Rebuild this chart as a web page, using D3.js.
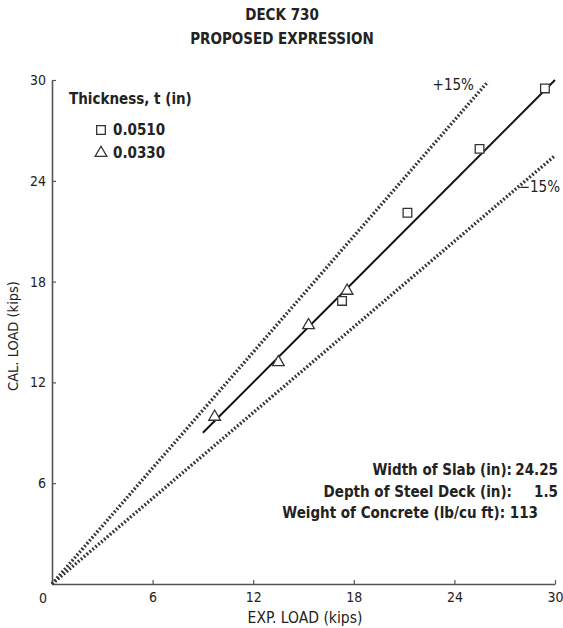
<!DOCTYPE html>
<html><head><meta charset="utf-8">
<script src="https://cdn.jsdelivr.net/npm/d3@7"></script>
<style>
body{margin:0;background:#fff;}
text{font-family:"Liberation Sans Narrow","DejaVu Sans Condensed","Roboto Condensed",sans-serif;fill:#222;}
</style></head>
<body>
<svg id="c" width="563" height="628"></svg>
<script>
const titleLines = ["DECK 730", "PROPOSED EXPRESSION"];
const xTicks = [0, 6, 12, 18, 24, 30];
const yTicks = [6, 12, 18, 24, 30];
const series = ["0.0510", "0.0330"];
const squarePts = [[29.4, 29.5], [25.5, 25.9], [21.2, 22.1], [17.3, 16.85]];
const trianglePts = [[9.7, 9.95], [13.5, 13.2], [15.3, 15.4], [17.6, 17.45]];
const fitLine = [[9, 9], [30, 30]];
const upperLine = [[0, 0], [26, 29.9]];
const lowerLine = [[0, 0], [30, 25.5]];
const notes = [["Width of Slab (in):", "24.25"], ["Depth of Steel Deck (in):", "1.5"], ["Weight of Concrete (lb/cu ft):", "113"]];

const svg = d3.select("#c");
const x = d3.scaleLinear().domain([0, 30]).range([52, 555]);
const y = d3.scaleLinear().domain([0, 30]).range([584, 80]);
const axisColor = "#555";

// title
svg.selectAll(".title").data(titleLines).enter().append("text")
  .attr("x", 282).attr("y", (d, i) => 20 + i * 24)
  .attr("text-anchor", "middle").attr("font-size", 15).attr("font-weight", "bold").text(d => d);

// axes
const xAxis = d3.axisBottom(x).tickValues(xTicks).tickSizeInner(-4).tickSizeOuter(0).tickPadding(8)
  .tickFormat(d => d === 0 ? "" : d);
const gx = svg.append("g").attr("transform", "translate(0,584)").call(xAxis);
const yAxis = d3.axisLeft(y).tickValues(yTicks).tickSizeInner(-4).tickSizeOuter(0).tickPadding(6);
const gy = svg.append("g").attr("transform", "translate(52,0)").call(yAxis);
[gx, gy].forEach(g => {
  g.select(".domain").attr("stroke", axisColor).attr("stroke-width", 1.6);
  g.selectAll(".tick line").attr("stroke", axisColor).attr("stroke-width", 1.2);
  g.selectAll(".tick text").attr("font-size", 14).attr("fill", "#222")
    .style("font-family", '"Liberation Sans Narrow","DejaVu Sans Condensed",sans-serif');
});
svg.append("text").attr("x", 43).attr("y", 603).attr("text-anchor", "middle").attr("font-size", 14).text("0");

// axis labels
svg.append("text").attr("x", 305).attr("y", 623).attr("text-anchor", "middle").attr("font-size", 15.5).text("EXP. LOAD (kips)");
svg.append("text").attr("transform", "translate(18,336) rotate(-90)").attr("text-anchor", "middle").attr("font-size", 14.5).text("CAL. LOAD (kips)");

const line = d3.line().x(d => x(d[0])).y(d => y(d[1]));
// dotted bounds
[upperLine, lowerLine].forEach(l => {
  svg.append("path").attr("d", line(l)).attr("fill", "none").attr("stroke", "#333")
    .attr("stroke-width", 3.4).attr("stroke-dasharray", "1.8,2");
});
// fit line
svg.append("path").attr("d", line(fitLine)).attr("fill", "none").attr("stroke", "#111").attr("stroke-width", 2);

svg.append("text").attr("x", x(upperLine[1][0]) - 14).attr("y", y(upperLine[1][1]) + 8)
  .attr("text-anchor", "end").attr("font-size", 15).text("+15%");
svg.append("text").attr("x", x(lowerLine[1][0]) + 5).attr("y", y(lowerLine[1][1]) + 36)
  .attr("text-anchor", "end").attr("font-size", 15).text("\u221215%");

// markers
const sq = d3.symbol().type(d3.symbolSquare).size(75);
const tri = d3.symbol().type(d3.symbolTriangle).size(60);
svg.selectAll(".sq").data(squarePts).enter().append("path")
  .attr("d", sq).attr("transform", d => `translate(${x(d[0])},${y(d[1])})`)
  .attr("fill", "#fff").attr("stroke", "#333").attr("stroke-width", 1.3);
svg.selectAll(".tri").data(trianglePts).enter().append("path")
  .attr("d", tri).attr("transform", d => `translate(${x(d[0])},${y(d[1])})`)
  .attr("fill", "#fff").attr("stroke", "#333").attr("stroke-width", 1.3);

// legend
svg.append("text").attr("x", 69).attr("y", 104).attr("font-size", 15).attr("font-weight", "bold").text("Thickness, t (in)");
const legSyms = [sq, tri];
series.forEach((s, i) => {
  const ly = 130 + i * 23;
  svg.append("path").attr("d", legSyms[i]).attr("transform", `translate(101,${ly})`)
    .attr("fill", "#fff").attr("stroke", "#333").attr("stroke-width", 1.3);
  svg.append("text").attr("x", 113).attr("y", ly + 5).attr("font-size", 15).attr("font-weight", "bold").text(s);
});

// notes
const noteY = [475, 497, 518];
notes.forEach((n, i) => {
  if (i < 2) {
    svg.append("text").attr("x", 512).attr("y", noteY[i]).attr("text-anchor", "end").attr("font-size", 15).attr("font-weight", "bold").text(n[0]);
    svg.append("text").attr("x", 558).attr("y", noteY[i]).attr("text-anchor", "end").attr("font-size", 15).attr("font-weight", "bold").text(n[1]);
  } else {
    svg.append("text").attr("x", 538).attr("y", noteY[i]).attr("text-anchor", "end").attr("font-size", 15).attr("font-weight", "bold").text(n[0] + " " + n[1]);
  }
});
</script>
</body></html>
